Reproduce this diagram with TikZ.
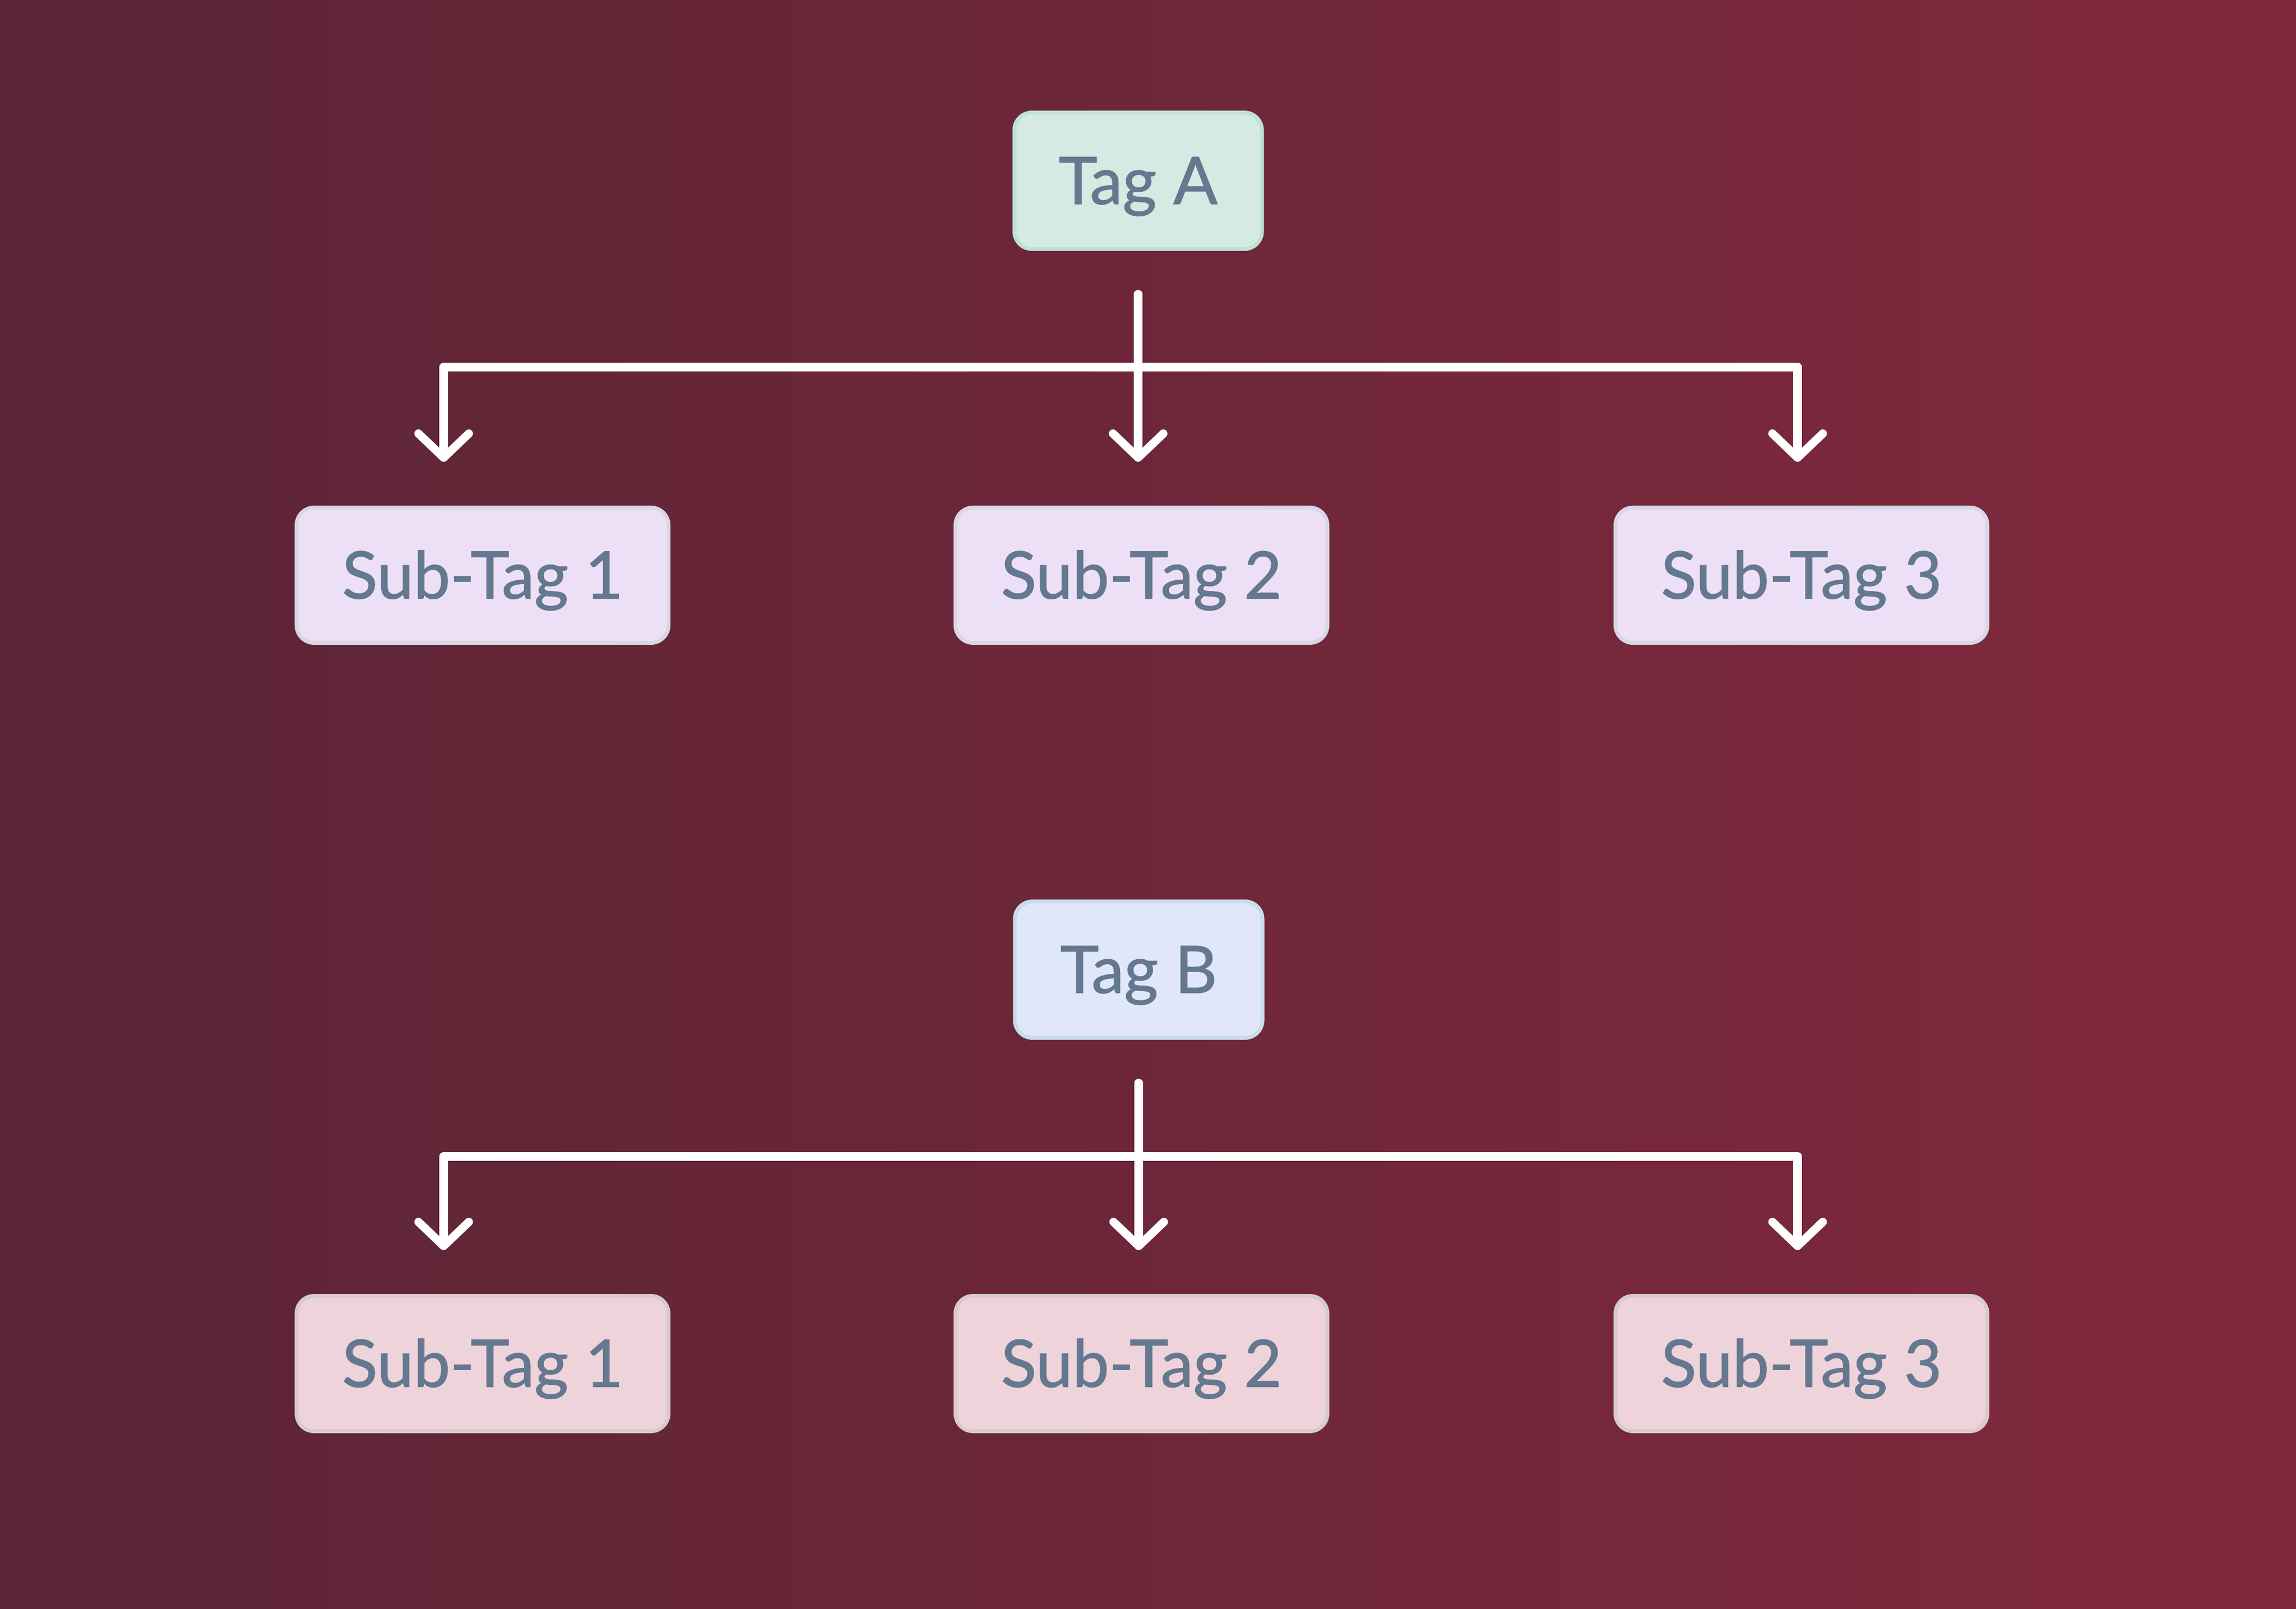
\documentclass[tikz,border=0pt]{standalone}
\usepackage{fontspec}
\setmainfont{Lato}
\newfontfamily\tagfont[FakeBold=1.1]{Lato}
\usetikzlibrary{positioning, arrows.meta}

\definecolor{bgleft}{HTML}{5A2535}
\definecolor{bgright}{HTML}{81283E}
\definecolor{tagtext}{HTML}{64788F}
\definecolor{tagafill}{HTML}{D4EAE2}
\definecolor{tagadraw}{HTML}{BFE2D7}
\definecolor{tagbfill}{HTML}{E0E7F8}
\definecolor{tagbdraw}{HTML}{C9DDE9}
\definecolor{subafill}{HTML}{EDDFF6}
\definecolor{subadraw}{HTML}{D8D7E6}
\definecolor{subbfill}{HTML}{EFD3DA}
\definecolor{subbdraw}{HTML}{D6CBCD}

\begin{document}
\begin{tikzpicture}


\tikzstyle{box_style} = [rectangle, rounded corners=0.32cm, line width=2pt, text=tagtext, font=\tagfont\fontsize{34}{40}\selectfont, inner sep=0pt, text height=0.85cm, text depth=0pt]

\tikzstyle{tag_a_style} = [box_style, fill=tagafill, draw=tagadraw, minimum width=4.52cm, minimum height=2.49cm]
\tikzstyle{tag_b_style} = [box_style, fill=tagbfill, draw=tagbdraw, minimum width=4.52cm, minimum height=2.49cm]
\tikzstyle{sub_a_style} = [box_style, fill=subafill, draw=subadraw, minimum width=6.79cm, minimum height=2.47cm]
\tikzstyle{sub_b_style} = [box_style, fill=subbfill, draw=subbdraw, minimum width=6.79cm, minimum height=2.47cm]

\tikzstyle{edge_style} = [draw=white, line width=4.3pt, line join=round, line cap=round, shorten <=0.79cm, shorten >=0.80cm, -{Straight Barb[length=0.44cm, width=0.92cm, round]}]


\useasboundingbox (0,0) rectangle (41.92,29.36);
\shade[left color=bgleft, right color=bgright] (0,0) rectangle (41.92,29.36);

\node[tag_a_style] (tA) at (20.78, 26.06) {Tag A};
\node[sub_a_style] (a1) at (8.81, 18.86) {Sub-Tag 1};
\node[sub_a_style] (a2) at (20.84, 18.86) {Sub-Tag 2};
\node[sub_a_style] (a3) at (32.89, 18.86) {Sub-Tag 3};

\node[tag_b_style] (tB) at (20.79, 11.66) {Tag B};
\node[sub_b_style] (b1) at (8.81, 4.47) {Sub-Tag 1};
\node[sub_b_style] (b2) at (20.84, 4.47) {Sub-Tag 2};
\node[sub_b_style] (b3) at (32.89, 4.47) {Sub-Tag 3};


\draw[edge_style]  (tA.south) -- ++(0,-2.12) -| ([xshift=-0.71cm]a1.north);
\draw[edge_style]  (tA.south) -- (tA.south |- a2.north);
\draw[edge_style]  (tA.south) -- ++(0,-2.12) -| ([xshift=-0.07cm]a3.north);

\draw[edge_style]  (tB.south) -- ++(0,-2.13) -| ([xshift=-0.71cm]b1.north);
\draw[edge_style]  (tB.south) -- (tB.south |- b2.north);
\draw[edge_style]  (tB.south) -- ++(0,-2.13) -| ([xshift=-0.07cm]b3.north);


\end{tikzpicture}
\end{document}
